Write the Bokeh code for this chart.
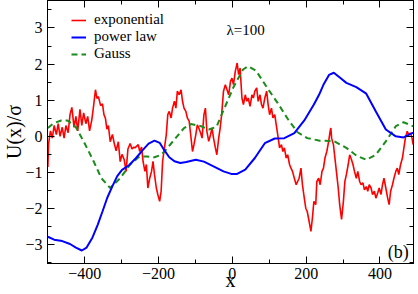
from bokeh.plotting import figure
from bokeh.models import (Range1d, LinearAxis, SingleIntervalTicker, Legend,
                          LegendItem, Label)
from bokeh.embed import file_html
from bokeh.resources import INLINE

# ---- data ----
red_x = [-500, -498, -493, -488, -483, -477, -472, -467, -461, -456,
         -451, -445, -440, -435, -429, -424, -419, -413, -408, -403,
         -397, -392, -387, -381, -376, -371, -367, -363, -357, -352,
         -348, -344, -340, -336, -331, -325, -320, -315, -309, -304,
         -299, -293, -288, -283, -277, -272, -267,
         -264, -255, -251, -246, -242, -237, -233, -229, -224, -219,
         -215, -211, -206, -202, -197, -193, -189, -184, -179, -175,
         -171, -166, -162, -157, -153, -149, -144, -139, -135, -131,
         -126, -122, -117, -113, -108, -104, -99, -95, -91, -86,
         -82, -77, -73, -69, -64, -59, -55, -51, -46, -42,
         -37, -33, -29, -24,
         -19, -10, -5, -1, 3, 8, 13, 17, 21, 26,
         30, 35, 39, 43, 48, 53, 57, 61, 66, 70,
         75, 79, 83, 88, 93, 97, 101, 106, 110, 115,
         119, 123, 128, 133, 137, 141, 146, 150, 155, 159,
         163, 168, 173, 177, 181, 186,
         190, 195, 199, 203, 208, 213, 217, 221, 226,
         229, 234, 238, 243, 247, 251, 256, 261, 265, 267,
         269, 274, 278, 283, 287, 291, 296, 301, 305, 309,
         314, 318, 323, 327, 331, 336, 340, 345, 349, 354,
         358, 363, 367, 371, 376, 380, 385, 389, 394, 398,
         403, 407, 411, 416, 421, 425, 429, 434, 438, 443,
         447, 451, 456, 461, 465, 469, 474, 478, 483, 487,
         490]
red_y = [-0.85, -0.2, 0.15, -0.05, 0.3, 0.05, 0.35, 0.0, 0.25, -0.05,
         0.3, 0.1, 0.6, 0.8, 0.25, 0.55, 0.15, 0.75, 0.3, 0.65,
         0.35, 0.55, 0.15, 0.45, 0.85, 1.29, 1.05, 1.1, 0.85, 0.9,
         0.6, 0.5, 0.2, 0.3, -0.15, 0.05, -0.2, -0.4, -0.15, -0.7,
         -0.5, -0.65, -0.97, -0.35, -0.2, -0.35, -0.3,
         -0.32, -0.23, -0.42, -0.3, -0.69, -0.97, -0.78, -1.43, -1.16, -0.97,
         -0.69, -1.06, -1.43, -1.61, -1.8, -1.52, -0.69, -0.32, 0.05, 0.6,
         0.69, 0.51, 0.78, 0.97, 0.78, 1.25, 1.15, 1.29, 0.97, 0.78,
         0.69, 0.51, 0.42, 0.05, -0.42, -0.23, 0.05, 0.32, 0.23, 0.09,
         -0.05, 0.6, 0.78, 0.14, -0.14, 0.05, 0.23, -0.05, -0.32, -0.51,
         -0.05, 0.23, 0.6, 1.25,
         1.43, 1.15, 1.52, 1.61, 1.43, 1.8, 2.03, 1.71, 1.89, 1.06,
         0.88, 1.15, 0.97, 1.06, 0.83, 1.15, 1.06, 1.25, 1.34, 0.97,
         1.15, 0.88, 0.78, 1.06, 1.25, 0.88, 0.6, 0.78, 0.51, 0.6,
         0.32, 0.05, -0.32, -0.23, -0.42, -0.32, -0.6, -0.51, -0.78, -0.88,
         -0.97, -1.16, -1.34, -1.25, -1.16, -0.88,
         -1.34, -1.71, -1.99, -2.08, -2.35, -2.63, -2.26, -1.8, -1.89,
         -1.25, -1.16, -1.34, -0.97, -0.88, -0.6, -0.42, -0.14, 0.14, 0.23,
         -0.05, -0.23, -0.6, -1.06, -1.43, -1.9, -2.3, -1.8, -1.25, -1.06,
         -0.78, -0.51, -0.65, -0.78, -0.97, -1.16, -0.97, -1.25, -1.34, -1.29,
         -1.48, -1.39, -1.52, -1.34, -1.43, -1.61, -1.52, -1.71, -1.57, -1.43,
         -1.61, -1.34, -1.16, -1.43, -1.71, -1.89, -1.52, -1.34, -1.16, -0.97,
         -0.88, -1.06, -0.78, -0.6, -0.32, -0.05, 0.14, 0.05, 0.09, -0.05,
         -0.23]

blue_x = [-500, -483, -461, -440, -424, -408, -395, -379, -365, -352,
          -339, -325, -312, -299, -280, -261, -243, -227, -211, -197,
          -184, -171, -157, -141, -125, -99, -77, -51, -24, -3,
          13, 35, 61, 88, 115, 141, 168, 195, 221, 235,
          248, 262, 275, 292, 309, 336, 363, 389, 416, 443,
          464, 490]
blue_y = [-2.78, -2.86, -2.9, -2.98, -3.08, -3.16, -3.08, -2.8, -2.45, -2.08,
          -1.7, -1.38, -1.1, -0.93, -0.8, -0.6, -0.38, -0.2, -0.12, -0.18,
          -0.39, -0.58, -0.69, -0.74, -0.71, -0.65, -0.7, -0.83, -0.97, -1.04,
          -1.04, -0.92, -0.6, -0.19, -0.06, -0.05, 0.09, 0.44, 0.88, 1.15,
          1.45, 1.7, 1.76, 1.62, 1.48, 1.36, 1.18, 0.69, 0.19, 0.0,
          -0.03, 0.1]

gauss_x = [-500, -485, -464, -448, -435, -424, -403, -376, -355, -331,
           -304, -277, -251, -232, -211, -195, -184, -157, -131, -112,
           -85, -64, -43, -24, 3, 29, 43, 64, 96, 123,
           149, 176, 203, 237, 275, 309, 336, 363, 389, 416,
           443, 464, 490]
gauss_y = [0.23, 0.36, 0.44, 0.44, 0.36, 0.25, -0.14, -0.69, -1.16, -1.43,
           -1.16, -0.78, -0.55, -0.56, -0.58, -0.52, -0.42, -0.09, 0.23, 0.34,
           0.28, 0.19, 0.26, 0.72, 1.36, 1.85, 1.94, 1.82, 1.32, 0.92,
           0.5, 0.12, -0.05, -0.12, -0.13, -0.32, -0.53, -0.65, -0.51, -0.14,
           0.28, 0.39, 0.28]

series_labels = ["exponential", "power law", "Gauss"]
x_label = "x"
y_label = "U(x)/σ"
x_ticks_interval = 200
y_ticks_interval = 1

SERIF = "Liberation Serif"

p = figure(width=418, height=294, output_backend="svg", toolbar_location=None,
           x_range=Range1d(-501, 491), y_range=Range1d(-3.52, 3.76),
           min_border_left=41, min_border_right=5, min_border_top=0,
           min_border_bottom=31, x_axis_location=None, y_axis_location=None)
p.xgrid.grid_line_color = None
p.ygrid.grid_line_color = None
p.outline_line_color = "black"
p.background_fill_color = "white"
p.border_fill_color = "white"


def make_axis(interval, labels, title=None, tick_standoff=5, title_standoff=0):
    ax = LinearAxis(ticker=SingleIntervalTicker(interval=interval, num_minor_ticks=2))
    ax.major_tick_in = 7
    ax.major_tick_out = 0
    ax.minor_tick_in = 4
    ax.minor_tick_out = 0
    ax.axis_line_color = "black"
    ax.major_tick_line_color = "black"
    ax.minor_tick_line_color = "black"
    if labels:
        ax.major_label_text_font = SERIF
        ax.major_label_text_font_size = "16px"
        ax.major_label_text_color = "black"
        ax.major_label_standoff = tick_standoff
    else:
        ax.major_label_text_font_size = "1px"
        ax.major_label_text_color = None
        ax.major_label_standoff = 0
    if title is not None:
        ax.axis_label = title
        ax.axis_label_text_font = SERIF
        ax.axis_label_text_font_size = "20px"
        ax.axis_label_text_font_style = "normal"
        ax.axis_label_text_color = "black"
        ax.axis_label_standoff = title_standoff
    return ax


p.add_layout(make_axis(x_ticks_interval, True, x_label, 4, -13), "below")
p.add_layout(make_axis(y_ticks_interval, True, y_label, 5, -3), "left")
p.add_layout(make_axis(x_ticks_interval, False), "above")
p.add_layout(make_axis(y_ticks_interval, False), "right")

r_red = p.line(red_x, red_y, line_color="#ff0000", line_width=1.6)
r_green = p.line(gauss_x, gauss_y, line_color="#1a8c1a", line_width=2, line_dash="6 4")
r_blue = p.line(blue_x, blue_y, line_color="#0000ff", line_width=2)

legend = Legend(items=[LegendItem(label=series_labels[0], renderers=[r_red]),
                       LegendItem(label=series_labels[1], renderers=[r_blue]),
                       LegendItem(label=series_labels[2], renderers=[r_green])],
                location=(24, 201), orientation="vertical",
                border_line_alpha=0, background_fill_alpha=0,
                padding=0, margin=0, spacing=0,
                glyph_width=15, glyph_height=16, label_height=16,
                label_standoff=8, label_text_font=SERIF,
                label_text_font_size="15px", label_text_color="black")
p.add_layout(legend)

p.add_layout(Label(x=-16, y=2.93, text="λ=100", text_font=SERIF,
                   text_font_size="15px", text_color="black",
                   text_align="left", text_baseline="alphabetic"))
p.add_layout(Label(x=421, y=-3.2, text="(b)", text_font=SERIF,
                   text_font_size="18px", text_color="black",
                   text_align="left", text_baseline="alphabetic"))

open("out.html", "w").write(file_html(p, INLINE))
